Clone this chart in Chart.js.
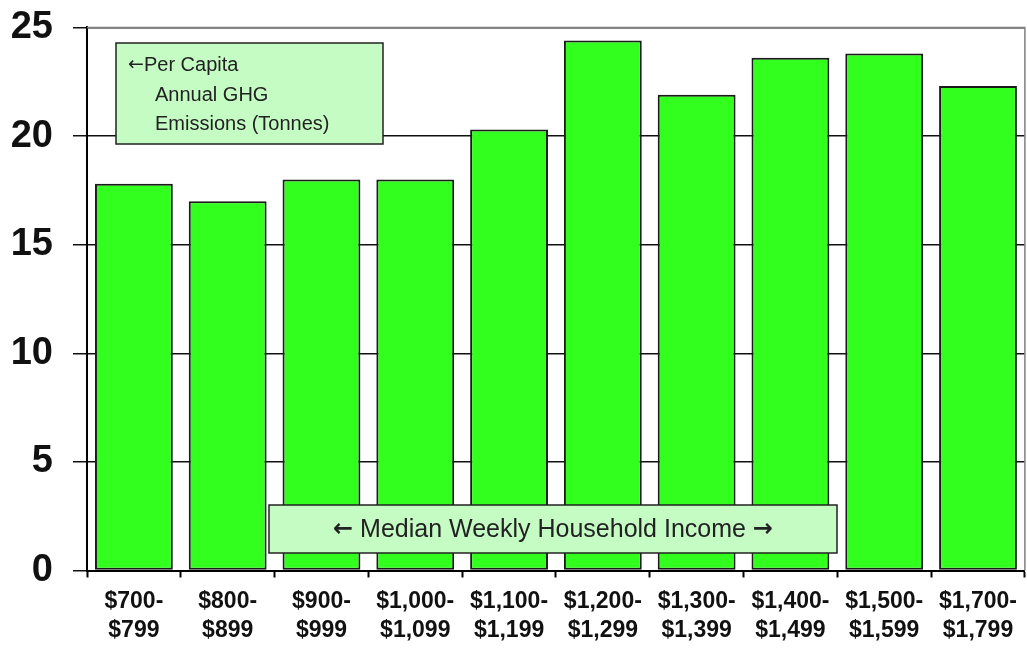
<!DOCTYPE html>
<html>
<head>
<meta charset="utf-8">
<script src="https://cdn.jsdelivr.net/npm/chart.js@4.4.0/dist/chart.umd.min.js"></script>
<style>
  html, body { margin: 0; padding: 0; background: #fff; }
  #frame { width: 1027px; height: 650px; position: relative; overflow: hidden; }
  #wrap { width: 1027px; height: 658px; position: absolute; left: 0; top: -3px; }
</style>
</head>
<body>
<div id="frame"><div id="wrap"><canvas id="chart"></canvas></div></div>
<script>
// Income bands (two-line labels) and per capita GHG emissions
const incomeBands = [
    ['$700-', '$799'], ['$800-', '$899'], ['$900-', '$999'], ['$1,000-', '$1,099'],
    ['$1,100-', '$1,199'], ['$1,200-', '$1,299'], ['$1,300-', '$1,399'],
    ['$1,400-', '$1,499'], ['$1,500-', '$1,599'], ['$1,700-', '$1,799']
];
const emissions = [17.8, 17.0, 18.0, 18.0, 20.3, 24.4, 21.9, 23.6, 23.8, 22.3];
const yTicks = [0, 5, 10, 15, 20, 25];

const topNote = ['\u2190', 'Per Capita', 'Annual GHG', 'Emissions (Tonnes)'];
const bottomNote = ['\u2190', ' Median Weekly Household Income ', '\u2192'];

const TEXT_FONT = '"Liberation Sans", Arial, sans-serif';
const ARROW_FONT = '"DejaVu Sans", sans-serif';
const DY = 3; // canvas is shifted up by 3px

// draw a list of [text, font] runs left to right
function drawRuns(ctx, runs, x, y) {
    runs.forEach(([text, font]) => {
        ctx.font = font;
        ctx.fillText(text, x, y);
        x += ctx.measureText(text).width;
    });
}

function runsWidth(ctx, runs) {
    let w = 0;
    runs.forEach(([text, font]) => {
        ctx.font = font;
        w += ctx.measureText(text).width;
    });
    return w;
}

// draws the gray frame and the two green note boxes
const notesPlugin = {
    id: 'notes',
    afterDatasetsDraw(chart) {
        const ctx = chart.ctx;
        const a = chart.chartArea;
        ctx.save();
        // gray frame on top/right
        ctx.strokeStyle = '#808080';
        ctx.lineWidth = 1.5;
        ctx.beginPath();
        ctx.moveTo(a.left, a.top);
        ctx.lineTo(a.right, a.top);
        ctx.lineTo(a.right, a.bottom);
        ctx.stroke();

        // top-left note
        ctx.fillStyle = '#c5fcc3';
        ctx.strokeStyle = '#222';
        ctx.lineWidth = 1.5;
        ctx.fillRect(116, 43 + DY, 267, 101);
        ctx.strokeRect(116, 43 + DY, 267, 101);
        ctx.fillStyle = '#222';
        ctx.textBaseline = 'middle';
        ctx.textAlign = 'left';
        drawRuns(ctx, [[topNote[0], '19px ' + ARROW_FONT], [topNote[1], '20px ' + TEXT_FONT]], 128, 65 + DY);
        ctx.font = '20px ' + TEXT_FONT;
        ctx.fillText(topNote[2], 155, 95 + DY);
        ctx.fillText(topNote[3], 155, 124 + DY);

        // bottom note
        ctx.fillStyle = '#c5fcc3';
        ctx.fillRect(269, 505 + DY, 568, 48);
        ctx.strokeRect(269, 505 + DY, 568, 48);
        ctx.fillStyle = '#222';
        const runs = [
            [bottomNote[0], 'bold 24px ' + ARROW_FONT],
            [bottomNote[1], '25px ' + TEXT_FONT],
            [bottomNote[2], 'bold 24px ' + ARROW_FONT]
        ];
        drawRuns(ctx, runs, 553 - runsWidth(ctx, runs) / 2, 530 + DY);
        ctx.restore();
    }
};

const ctx = document.getElementById('chart').getContext('2d');
new Chart(ctx, {
    type: 'bar',
    data: {
        labels: incomeBands,
        datasets: [{
            data: emissions,
            backgroundColor: '#33ff1f',
            borderColor: '#1a1a1a',
            borderWidth: 2,
            borderSkipped: false,
            categoryPercentage: 1.0,
            barPercentage: 0.83
        }]
    },
    options: {
        responsive: true,
        maintainAspectRatio: false,
        animation: false,
        layout: { padding: { top: 0, right: 0, left: 0, bottom: 0 } },
        plugins: {
            legend: { display: false },
            tooltip: { enabled: false }
        },
        scales: {
            x: {
                grid: {
                    offset: true,
                    drawOnChartArea: false,
                    drawTicks: true,
                    tickLength: 7,
                    tickColor: '#000',
                    tickWidth: 2
                },
                border: { color: '#000', width: 2 },
                ticks: {
                    color: '#111',
                    padding: 10,
                    maxRotation: 0,
                    autoSkip: false,
                    font: { family: TEXT_FONT, size: 23, weight: 'bold', lineHeight: 1.25 }
                }
            },
            y: {
                min: 0,
                max: 25,
                afterBuildTicks(scale) {
                    scale.ticks = yTicks.map(v => ({ value: v }));
                },
                afterFit(scale) { scale.width = 87; },
                grid: {
                    color: '#111',
                    lineWidth: 1.5,
                    tickLength: 14,
                    tickColor: '#111'
                },
                border: { color: '#000', width: 2 },
                ticks: {
                    color: '#111',
                    padding: 20,
                    font: { family: TEXT_FONT, size: 38, weight: 'bold', lineHeight: 0.55 }
                }
            }
        }
    },
    plugins: [notesPlugin]
});
</script>
</body>
</html>
